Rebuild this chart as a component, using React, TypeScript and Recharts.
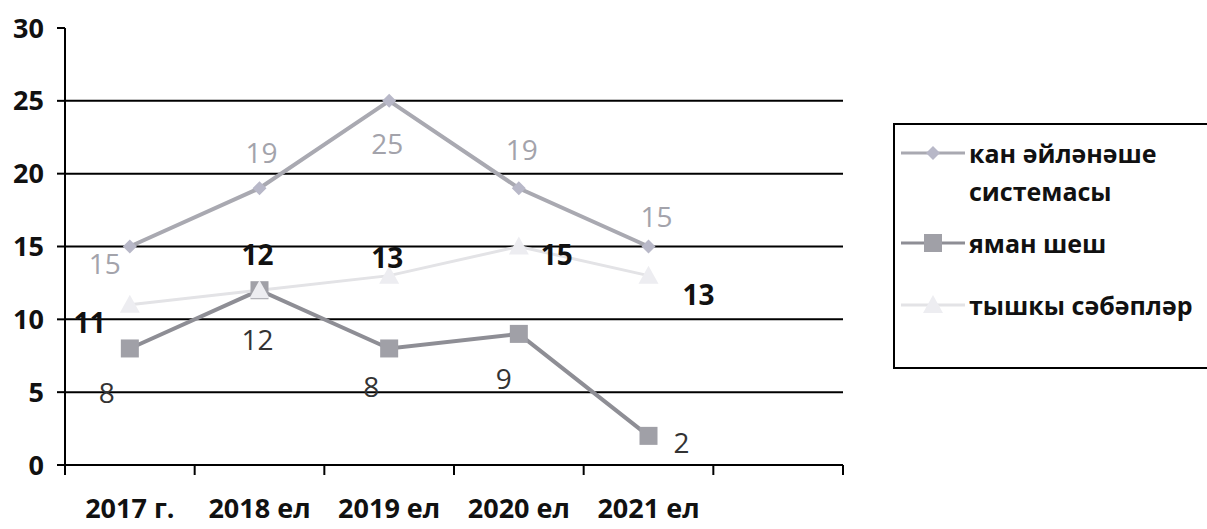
import { LineChart, Line, XAxis, YAxis, ReferenceLine, LabelList } from "recharts";

// categories (last slot is empty, as in the original axis)
const categories = ["2017 г.", "2018 ел", "2019 ел", "2020 ел", "2021 ел", ""];

// series values
const circulatory = [15, 19, 25, 19, 15];
const cancer = [8, 12, 8, 9, 2];
const external = [11, 12, 13, 15, 13];

const seriesNames = ["кан әйләнәше системасы", "яман шеш", "тышкы сәбәпләр"];

const yTicks = [0, 5, 10, 15, 20, 25, 30];
const gridValues = [5, 10, 15, 20, 25];

// label nudges per point [dx, dy]
const circulatoryLabelNudge = [[-25, 16], [2, -36], [-2, 42], [3, -39], [8, -31]];
const cancerLabelNudge = [[-23, 44], [-2, 49], [-18, 38], [-15, 44], [33, 6]];
const externalLabelNudge = [[-40, 17], [-2, -36], [-2, -19], [38, 7], [50, 18]];

const data = circulatory.map((_, i) => ({
  pos: i + 0.5,
  circulatory: circulatory[i],
  cancer: cancer[i],
  external: external[i],
}));

const xTicks = categories.flatMap((_, i) => [i, i + 0.5]).concat([categories.length]);

const FONT = "'Open Sans', 'Noto Sans', sans-serif";

const C1_LINE = "#a9a9b1";
const C1_DOT = "#b8b8c8";
const C2_LINE = "#8e8e95";
const C2_DOT = "#a0a0a7";
const C3_LINE = "#e3e3e6";
const C3_DOT = "#ededf1";

function Diamond({ cx, cy }: any) {
  if (cx == null || cy == null) return null;
  const r = 7;
  return <polygon points={`${cx},${cy - r} ${cx + r},${cy} ${cx},${cy + r} ${cx - r},${cy}`} fill={C1_DOT} />;
}

function Square({ cx, cy }: any) {
  if (cx == null || cy == null) return null;
  const s = 18;
  return <rect x={cx - s / 2} y={cy - s / 2} width={s} height={s} fill={C2_DOT} />;
}

function Triangle({ cx, cy }: any) {
  if (cx == null || cy == null) return null;
  const r = 10;
  return <polygon points={`${cx},${cy - r} ${cx + r},${cy + r * 0.8} ${cx - r},${cy + r * 0.8}`} fill={C3_DOT} />;
}

function makeLabel(nudge: number[][], fill: string, weight: number) {
  return (p: any) => {
    const { x, y, value, index } = p;
    if (x == null || y == null) return null;
    const [dx, dy] = nudge[index] || [0, -20];
    return (
      <text
        x={x + dx}
        y={y + dy}
        textAnchor="middle"
        dominantBaseline="central"
        fontFamily={FONT}
        fontSize={28}
        fontWeight={weight}
        fill={fill}
      >
        {value}
      </text>
    );
  };
}

function XTick({ x, y, payload }: any) {
  const v = payload.value;
  if (Number.isInteger(v)) {
    return <line x1={x} x2={x} y1={y} y2={y + 10} stroke="#000" strokeWidth={2} />;
  }
  const label = categories[Math.floor(v)];
  return (
    <text x={x} y={y + 53} textAnchor="middle" fontFamily={FONT} fontSize={27} fontWeight={700} fill="#111">
      {label}
    </text>
  );
}

function LegendSymbol({ kind }: { kind: number }) {
  const colors = [C1_LINE, C2_LINE, C3_LINE];
  return (
    <svg width={64} height={26} style={{ flex: "none" }}>
      <line x1={0} x2={64} y1={13} y2={13} stroke={colors[kind]} strokeWidth={3} />
      {kind === 0 && <Diamond cx={32} cy={13} />}
      {kind === 1 && <Square cx={32} cy={13} />}
      {kind === 2 && <Triangle cx={32} cy={13} />}
    </svg>
  );
}

function ChartLegend() {
  const textStyle = { fontFamily: FONT, fontSize: 25, fontWeight: 700, color: "#111", lineHeight: "38px", whiteSpace: "nowrap" as const };
  const tops = [9, 99, 161];
  return (
    <div
      style={{
        position: "absolute",
        left: 893,
        top: 123,
        width: 330,
        height: 246,
        border: "2px solid #000",
        boxSizing: "border-box",
      }}
    >
      {seriesNames.map((name, i) => (
        <div key={name} style={{ position: "absolute", left: 6, top: tops[i], display: "flex", alignItems: "flex-start" }}>
          <div style={{ paddingTop: 6 }}>
            <LegendSymbol kind={i} />
          </div>
          <div style={{ ...textStyle, marginLeft: 4 }}>
            {i === 0 ? (
              <>
                кан әйләнәше
                <br />
                системасы
              </>
            ) : (
              name
            )}
          </div>
        </div>
      ))}
    </div>
  );
}

export default function App() {
  return (
    <div style={{ position: "relative", width: 1207, height: 529, background: "#fff", overflow: "hidden" }}>
      <style>{`body{margin:0}`}</style>
      <LineChart width={1207} height={529} data={data} margin={{ top: 28, right: 364, bottom: 0, left: 0 }}>
        <XAxis
          dataKey="pos"
          type="number"
          domain={[0, categories.length]}
          ticks={xTicks}
          interval={0}
          tick={<XTick />}
          tickLine={false}
          tickSize={0}
          tickMargin={0}
          height={64}
          axisLine={{ stroke: "#000", strokeWidth: 2 }}
        />
        <YAxis
          domain={[0, 30]}
          ticks={yTicks}
          interval={0}
          width={65}
          tickSize={8}
          tickMargin={13}
          tickLine={{ stroke: "#000", strokeWidth: 2 }}
          axisLine={{ stroke: "#000", strokeWidth: 2 }}
          tick={{ fontFamily: FONT, fontSize: 27, fontWeight: 700, fill: "#111" }}
        />
        {gridValues.map((v) => (
          <ReferenceLine key={v} y={v} stroke="#000" strokeWidth={2} />
        ))}
        <Line
          dataKey="circulatory"
          name={seriesNames[0]}
          stroke={C1_LINE}
          strokeWidth={4}
          dot={(p: any) => <Diamond key={`d${p.index}`} {...p} />}
          isAnimationActive={false}
        >
          <LabelList dataKey="circulatory" content={makeLabel(circulatoryLabelNudge, "#a3a3ab", 400)} />
        </Line>
        <Line
          dataKey="cancer"
          name={seriesNames[1]}
          stroke={C2_LINE}
          strokeWidth={4}
          dot={(p: any) => <Square key={`s${p.index}`} {...p} />}
          isAnimationActive={false}
        >
          <LabelList dataKey="cancer" content={makeLabel(cancerLabelNudge, "#333", 400)} />
        </Line>
        <Line
          dataKey="external"
          name={seriesNames[2]}
          stroke={C3_LINE}
          strokeWidth={3}
          dot={(p: any) => <Triangle key={`t${p.index}`} {...p} />}
          isAnimationActive={false}
        >
          <LabelList dataKey="external" content={makeLabel(externalLabelNudge, "#111", 700)} />
        </Line>
      </LineChart>
      <ChartLegend />
    </div>
  );
}
